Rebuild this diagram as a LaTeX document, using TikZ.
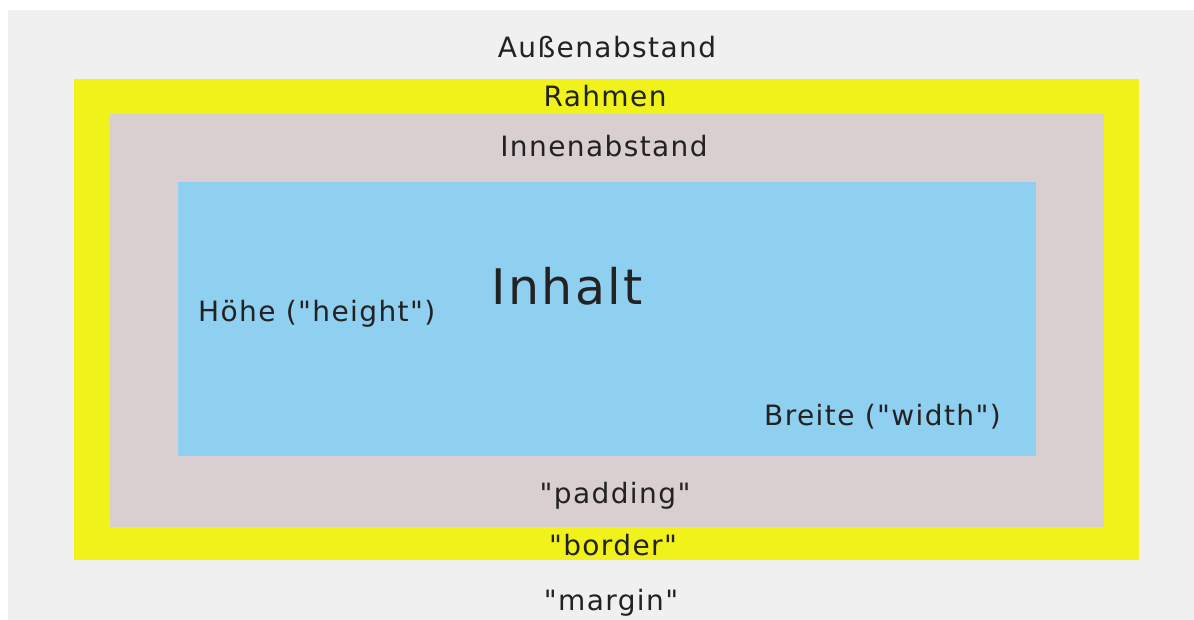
\documentclass[tikz,border=0pt]{standalone}
\usepackage{fontspec}
\setmainfont{DejaVu Sans}[LetterSpace=5, Ligatures=TeXOff]
\usepackage{tikz}
\usetikzlibrary{positioning}
\usepackage{xcolor}

\definecolor{margingrey}{RGB}{240,240,240}
\definecolor{borderyellow}{RGB}{240,242,26}
\definecolor{paddingpink}{RGB}{217,207,208}
\definecolor{contentblue}{RGB}{143,207,240}
\definecolor{labeltext}{RGB}{34,34,34}

\begin{document}
\begin{tikzpicture}[
    x=1pt, y=-1pt,
    lbl/.style={inner sep=0pt, anchor=base, text=labeltext, font=\fontsize{28}{33}\selectfont},
    biglbl/.style={lbl, font=\fontsize{49}{56}\selectfont}
]
\useasboundingbox (0,0) rectangle (1194,620);

% nested boxes
\fill[margingrey] (8,10) rectangle (1194,620);
\fill[borderyellow] (74,79) rectangle (1139,560);
\fill[paddingpink] (110,114) rectangle (1104,527);
\fill[contentblue] (178,182) rectangle (1036,456);

% labels
\node[lbl] (aussen) at (607,58) {Außenabstand};
\node[lbl] (rahmen) at (605,107) {Rahmen};
\node[lbl] (innen) at (604,157) {Innenabstand};
\node[biglbl] (inhalt) at (567,305) {Inhalt};
\node[lbl, anchor=base west] (hoehe) at (198,322) {Höhe ("height")};
\node[lbl, anchor=base east] (breite) at (1001,425) {Breite ("width")};
\node[lbl] (padding) at (615,503) {"padding"};
\node[lbl] (border) at (613,555) {"border"};
\node[lbl] (margin) at (611,610) {"margin"};

\end{tikzpicture}
\end{document}
